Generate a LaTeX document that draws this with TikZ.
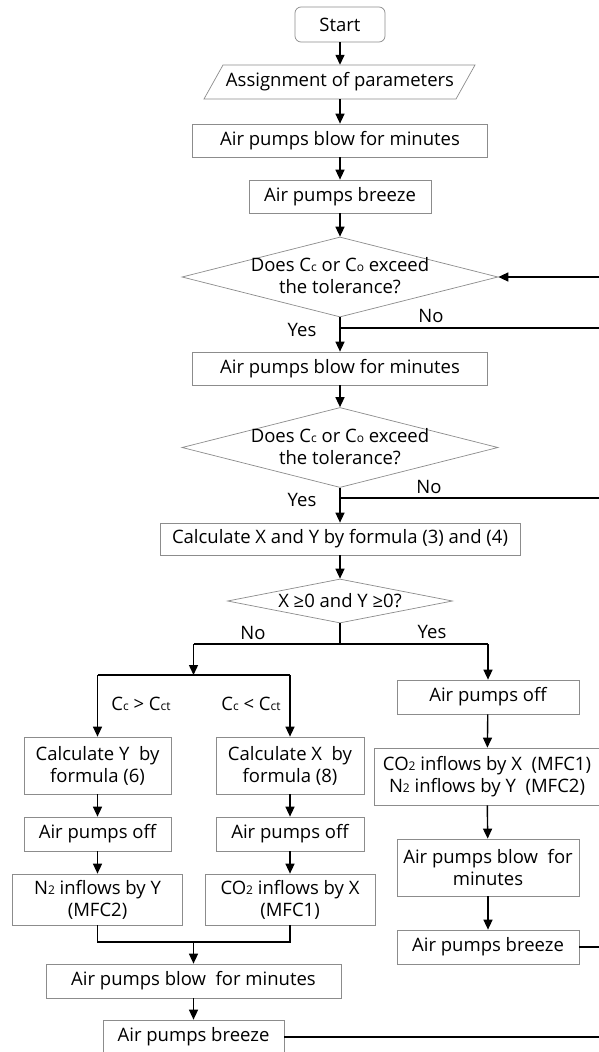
\documentclass[tikz,border=0pt]{standalone}
\usepackage{fontspec}
\setmainfont{Open Sans}
\usetikzlibrary{arrows.meta,shapes.geometric}
\newcommand{\lsub}[1]{{\fontsize{12}{12}\selectfont #1}}
\begin{document}
\begin{tikzpicture}[x=1pt,y=-1pt,
  every node/.style={font=\fontsize{18.5}{22}\selectfont},
  box/.style={draw=black!45, line width=0.7pt, fill=white, inner sep=0pt, align=center},
  dia/.style={diamond, draw=black!45, line width=0.7pt, inner sep=0pt},
  txt/.style={inner sep=0pt, align=center},
  arr/.style={line width=1.4pt, -{Triangle[length=10pt,width=9pt]}},
  ln/.style={line width=1.4pt},
  lab/.style={inner sep=0pt}]
\useasboundingbox (0,0) rectangle (599,1052);
\fill[white] (0,0) rectangle (599,1052);

% top chain
\node[box, rounded corners=6pt, minimum width=90pt, minimum height=35pt] (start) at (340,24.5) {Start};
\draw[draw=black!45, line width=0.7pt] (204,99) -- (223,65) -- (475,65) -- (456,99) -- cycle;
\node[txt, minimum height=34pt, minimum width=230pt] (assign) at (340,82) {Assignment of parameters};
\node[box, minimum width=295pt, minimum height=33pt] (blow1) at (340,140.5) {Air pumps blow for minutes};
\node[box, minimum width=182pt, minimum height=33pt] (breeze1) at (340,196.5) {Air pumps breeze};
\node[dia, minimum width=316pt, minimum height=80pt] (d1) at (340,277) {};
\node[txt] (d1t) at (340,276) {Does C\lsub{c} or C\lsub{o} exceed\\the tolerance?};
\node[box, minimum width=295pt, minimum height=33pt] (blow2) at (340,368.5) {Air pumps blow for minutes};
\node[dia, minimum width=316pt, minimum height=80pt] (d2) at (340,447.5) {};
\node[txt] (d2t) at (340,446.5) {Does C\lsub{c} or C\lsub{o} exceed\\the tolerance?};
\node[box, minimum width=360pt, minimum height=32pt] (calc) at (340,539) {Calculate X and Y by formula (3) and (4)};
\node[dia, minimum width=225pt, minimum height=44pt] (d3) at (340,601) {};
\node[txt] (d3t) at (340,601) {X ≥0 and Y ≥0?};

% right branch
\node[box, minimum width=182pt, minimum height=34pt] (off3) at (488,697) {Air pumps off};
\node[box, minimum width=226pt, minimum height=57pt] (co) at (487,776.5) {CO\lsub{2} inflows by X\ \ (MFC1)\\N\lsub{2} inflows by Y\ \ (MFC2)};
\node[box, minimum width=182pt, minimum height=57pt] (blow3) at (488,867.5) {Air pumps blow\ \ for\\minutes};
\node[box, minimum width=182pt, minimum height=34pt] (breeze3) at (488,947) {Air pumps breeze};

% left branch
\node[box, minimum width=147pt, minimum height=57pt] (calcY) at (97.5,765.5) {Calculate Y\ \ by\\formula (6)};
\node[box, minimum width=147pt, minimum height=34pt] (offL) at (97.5,834) {Air pumps off};
\node[box, minimum width=170pt, minimum height=51pt] (n2) at (97.5,899.5) {N\lsub{2} inflows by Y\\(MFC2)};
\node[box, minimum width=148pt, minimum height=57pt] (calcX) at (290,765.5) {Calculate X\ \ by\\formula (8)};
\node[box, minimum width=148pt, minimum height=34pt] (offM) at (290,834) {Air pumps off};
\node[box, minimum width=170pt, minimum height=51pt] (co1) at (290,899.5) {CO\lsub{2} inflows by X\\(MFC1)};
\node[box, minimum width=295pt, minimum height=34pt] (blow4) at (193.5,981) {Air pumps blow\ \ for minutes};
\node[box, minimum width=181pt, minimum height=34pt] (breeze4) at (193.5,1037) {Air pumps breeze};

% helper coordinates
\coordinate (r1) at (599,277);
\coordinate (y1) at (340,328);
\coordinate (n1e) at (599,328);
\coordinate (y2) at (340,498);
\coordinate (n2e) at (599,498);
\coordinate (sp) at (340,644);
\coordinate (spL) at (193.5,644);
\coordinate (spR) at (488,644);
\coordinate (jL) at (193.5,675);
\coordinate (jLL) at (97.5,675);
\coordinate (jLR) at (290,675);
\coordinate (mL) at (97.5,942);
\coordinate (mR) at (290,942);
\coordinate (mM) at (193.5,942);
\coordinate (b3e) at (599,947);
\coordinate (b4e) at (599,1037);

% connectors
\draw[arr] (start) -- (assign);
\draw[arr] (assign) -- (blow1);
\draw[arr] (blow1) -- (breeze1);
\draw[arr] (breeze1) -- (d1);
\draw[arr] (r1) -- (d1.east);
\draw[arr] (d1.south) -- (blow2);
\draw[ln] (y1) -- (n1e);
\draw[arr] (blow2) -- (d2.north);
\draw[arr] (d2.south) -- (calc);
\draw[ln] (y2) -- (n2e);
\draw[arr] (calc) -- (d3.north);
\draw[ln] (d3.south) -- (sp);
\draw[ln] (spL) -- (spR);
\draw[arr] (spL) -- (jL);
\draw[ln] (jLL) -- (jLR);
\draw[arr] (jLL) -- (calcY);
\draw[arr] (jLR) -- (calcX);
\draw[arr] (spR) -- (off3);
\draw[arr] (off3) -- (co);
\draw[arr] (co) -- (blow3);
\draw[arr] (blow3) -- (breeze3);
\draw[ln] (breeze3.east) -- (b3e);
\draw[arr] (calcY) -- (offL);
\draw[arr] (offL) -- (n2);
\draw[arr] (calcX) -- (offM);
\draw[arr] (offM) -- (co1);
\draw[ln] (n2.south) -- (mL) -- (mR) -- (co1.south);
\draw[arr] (mM) -- (blow4);
\draw[arr] (blow4) -- (breeze4);
\draw[ln] (breeze4.east) -- (b4e);

% labels
\node[lab] (lyes1) at (302,330) {Yes};
\node[lab] (lno1) at (431,316) {No};
\node[lab] (lyes2) at (302,500) {Yes};
\node[lab] (lno2) at (429,487) {No};
\node[lab] (lno3) at (253,633) {No};
\node[lab] (lyes3) at (432,632) {Yes};
\node[lab] (lgt) at (141,704) {C\lsub{c} > C\lsub{ct}};
\node[lab] (llt) at (251,704) {C\lsub{c} < C\lsub{ct}};
\end{tikzpicture}
\end{document}
